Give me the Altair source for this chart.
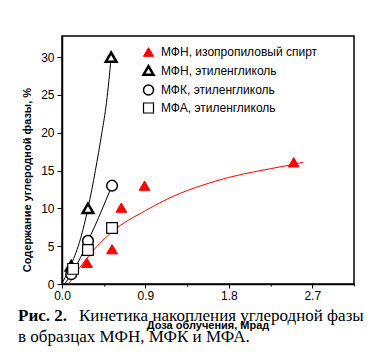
import altair as alt
import pandas as pd

# ---- data ----
series = ["МФН, изопропиловый спирт", "МФН, этиленгликоль", "МФК, этиленгликоль", "МФА, этиленгликоль"]

red_x = [0.27, 0.54, 0.64, 0.89, 2.50]
red_y = [2.8, 4.6, 10.1, 13.0, 16.1]

tri_x = [0.10, 0.28, 0.53]
tri_y = [2.4, 10.0, 30.0]

circ_x = [0.10, 0.28, 0.54]
circ_y = [1.3, 5.7, 13.0]

sq_x = [0.12, 0.28, 0.54]
sq_y = [2.0, 4.5, 7.4]

# fitted curves
red_curve_x = [0.07, 0.30, 0.54, 0.90, 1.20, 1.50, 1.80, 2.10, 2.40, 2.60]
red_curve_y = [0.0, 3.9, 6.9, 9.7, 11.6, 13.0, 14.1, 14.9, 15.6, 16.1]

tri_curve_x = [0.01, 0.10, 0.20, 0.28, 0.36, 0.43, 0.48, 0.53]
tri_curve_y = [0.3, 2.6, 6.0, 10.0, 15.0, 20.0, 24.0, 30.0]

circ_curve_x = [0.03, 0.10, 0.20, 0.28, 0.36, 0.43, 0.54]
circ_curve_y = [0.0, 1.3, 3.5, 5.7, 7.8, 9.8, 13.0]

x_ticks = [0, 0.45, 0.9, 1.35, 1.8, 2.25, 2.7, 3.15]
y_ticks = [0, 2.5, 5, 7.5, 10, 12.5, 15, 17.5, 20, 22.5, 25, 27.5, 30, 32.5]

x_title = "Доза облучения, Мрад"
y_title = "Содержание углеродной фазы, %"
cap_bold = "Рис. 2."
cap_line1 = "Кинетика накопления углеродной фазы"
cap_line2 = "в образцах МФН, МФК и МФА."

# ---- tables ----
pts = pd.concat([
    pd.DataFrame({"x": red_x, "y": red_y, "s": series[0]}),
    pd.DataFrame({"x": tri_x, "y": tri_y, "s": series[1]}),
    pd.DataFrame({"x": circ_x, "y": circ_y, "s": series[2]}),
    pd.DataFrame({"x": sq_x, "y": sq_y, "s": series[3]}),
])
curves = pd.concat([
    pd.DataFrame({"x": red_curve_x, "y": red_curve_y, "c": "red"}),
    pd.DataFrame({"x": tri_curve_x, "y": tri_curve_y, "c": "tri"}),
    pd.DataFrame({"x": circ_curve_x, "y": circ_curve_y, "c": "circ"}),
])

xs = alt.Scale(domain=[0, 3.15], nice=False, zero=False)
ys = alt.Scale(domain=[0, 32.8], nice=False, zero=False)

x_axis = alt.Axis(
    values=x_ticks, title=None, grid=False, labelFlush=False,
    labelExpr="round(datum.value*100) % 90 === 0 ? format(datum.value, '.1f') : ''",
    tickSize={"condition": {"test": "round(datum.value*100) % 90 === 0", "value": 4}, "value": 2},
    labelPadding=2,
)
y_axis = alt.Axis(
    values=y_ticks, title=None, grid=False, labelFlush=False,
    labelExpr="datum.value % 5 === 0 ? format(datum.value, 'd') : ''",
    tickSize={"condition": {"test": "datum.value % 5 === 0", "value": 5}, "value": 2},
    labelPadding=3,
)

lines = alt.Chart(curves).mark_line(strokeWidth=1, interpolate="monotone").encode(
    x=alt.X("x:Q", scale=xs, axis=x_axis),
    y=alt.Y("y:Q", scale=ys, axis=y_axis),
    color=alt.Color("c:N", scale=alt.Scale(domain=["red", "tri", "circ"], range=["#ff0000", "black", "black"]), legend=None),
    detail="c:N",
)

points = alt.Chart(pts).mark_point(size=115, opacity=1).encode(
    x=alt.X("x:Q", scale=xs),
    y=alt.Y("y:Q", scale=ys),
    shape=alt.Shape("s:N", scale=alt.Scale(domain=series, range=["triangle-up", "triangle-up", "circle", "square"]),
                    legend=alt.Legend(title=None, orient="none", legendX=80, legendY=10, padding=0,
                                      labelFont="Liberation Sans", labelFontSize=12, labelColor="black",
                                      symbolSize=100, rowPadding=2, labelOffset=6, labelLimit=400)),
    fill=alt.Fill("s:N", scale=alt.Scale(domain=series, range=["#ff0000", "white", "white", "white"])),
    stroke=alt.Stroke("s:N", scale=alt.Scale(domain=series, range=["#ff0000", "black", "black", "black"])),
    strokeWidth=alt.StrokeWidth("s:N", scale=alt.Scale(type="ordinal", domain=series, range=[1, 2.5, 1.5, 1.2])),
)

txt = pd.DataFrame({"t": [x_title]})
xt = alt.Chart(txt).mark_text(font="Liberation Sans", fontSize=11, fontWeight="bold", baseline="middle", align="center").encode(
    text="t:N", x=alt.value(146), y=alt.value(290))
yt = alt.Chart(pd.DataFrame({"t": [y_title]})).mark_text(font="Liberation Sans", fontSize=11, fontWeight="bold",
                                                        baseline="middle", align="center", angle=270).encode(
    text="t:N", x=alt.value(-34), y=alt.value(144))
c1b = alt.Chart(pd.DataFrame({"t": [cap_bold]})).mark_text(font="Liberation Serif", fontSize=17, fontWeight="bold",
                                                          baseline="middle", align="left").encode(
    text="t:N", x=alt.value(-44), y=alt.value(280))
c1 = alt.Chart(pd.DataFrame({"t": [cap_line1]})).mark_text(font="Liberation Serif", fontSize=17,
                                                          baseline="middle", align="left").encode(
    text="t:N", x=alt.value(17), y=alt.value(280))
c2 = alt.Chart(pd.DataFrame({"t": [cap_line2]})).mark_text(font="Liberation Serif", fontSize=17,
                                                          baseline="middle", align="left").encode(
    text="t:N", x=alt.value(-44), y=alt.value(301))

chart = alt.layer(lines, points, c1b, c1, c2, xt, yt).properties(
    width=292, height=248,
    autosize=alt.AutoSizeParams(type="none"),
    padding={"left": 54, "top": 28, "right": 19, "bottom": 69},
).configure_view(stroke="black", strokeWidth=1.5).configure_axis(
    domainColor="black", domainWidth=1.5, tickColor="black", tickWidth=1,
    labelColor="black", labelFont="Liberation Sans", labelFontSize=12,
)

chart.save("out.html", embed_options={"renderer": "svg", "actions": False})
